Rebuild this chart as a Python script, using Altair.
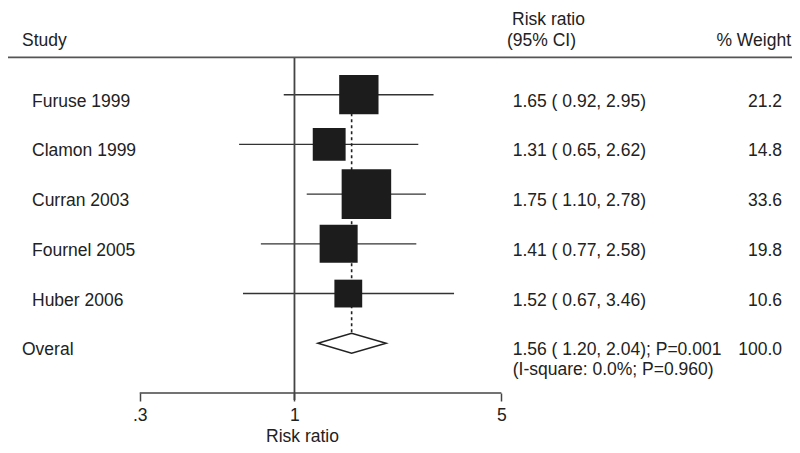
import altair as alt
import pandas as pd

# ---------------- data ----------------
STUDIES = ["Furuse 1999", "Clamon 1999", "Curran 2003", "Fournel 2005", "Huber 2006"]
RR = [1.65, 1.31, 1.75, 1.41, 1.52]
LO = [0.92, 0.65, 1.10, 0.77, 0.67]
HI = [2.95, 2.62, 2.78, 2.58, 3.46]
WEIGHT = [21.2, 14.8, 33.6, 19.8, 10.6]

OVERALL_LABEL = "Overal"
OVERALL_RR = 1.56
OVERALL_LO = 1.20
OVERALL_HI = 2.04
OVERALL_P = "0.001"
OVERALL_WEIGHT = 100.0
HETERO_TEXT = "(I-square: 0.0%; P=0.960)"

NULL_VALUE = 1
TICK_VALUES = [0.3, 1, 5]
TICK_LABELS = [".3", "1", "5"]

HEADER_STUDY = "Study"
HEADER_RR = "Risk ratio"
HEADER_CI = "(95% CI)"
HEADER_W = "% Weight"
AXIS_TITLE = "Risk ratio"

# ---------------- tables ----------------
FONT = "Liberation Sans"
FS = 17.5
TXT = "#222222"
W, H = 784, 385

studies = pd.DataFrame({
    "row": list(range(len(STUDIES))),
    "study": STUDIES,
    "rr": RR, "lo": LO, "hi": HI, "w": WEIGHT,
})
studies["ci"] = [f"{r:.2f} ({l:5.2f}, {h:5.2f})" for r, l, h in zip(RR, LO, HI)]
studies["wt"] = [f"{w:.1f}" for w in WEIGHT]

orow = len(STUDIES)
overall = pd.DataFrame({
    "row": [orow],
    "top": [-0.35],
    "est": [OVERALL_RR],
    "null": [NULL_VALUE],
    "tmin": [TICK_VALUES[0]],
    "tmax": [TICK_VALUES[-1]],
    "label": [OVERALL_LABEL],
    "ci": [f"{OVERALL_RR:.2f} ({OVERALL_LO:5.2f}, {OVERALL_HI:5.2f}); P={OVERALL_P}"],
    "het": [HETERO_TEXT],
    "wt": [f"{OVERALL_WEIGHT:.1f}"],
})
HALF = 0.2
diamond = pd.DataFrame({
    "x": [OVERALL_LO, OVERALL_RR, OVERALL_HI],
    "y": [orow, orow - HALF, orow],
    "y2": [orow, orow + HALF, orow],
})

# ---------------- scales / axes ----------------
XSCALE = alt.Scale(type="log", domain=[0.1077, 47.95], nice=False)
YSCALE = alt.Scale(domain=[-1.744, 6.0], reverse=True, nice=False, zero=False)

label_expr = "".join(
    f"datum.value == {v} ? '{t}' : " for v, t in zip(TICK_VALUES, TICK_LABELS)
) + "''"

XAXIS = alt.Axis(
    values=TICK_VALUES, labelExpr=label_expr, grid=False, domain=False,
    ticks=True, tickSize=8, tickWidth=1.5, tickColor="#444444",
    labelFont=FONT, labelFontSize=FS, labelColor=TXT, labelPadding=19,
    labelBaseline="alphabetic", labelFlush=False, labelOverlap=False,
    title=AXIS_TITLE, titleFont=FONT, titleFontSize=FS, titleFontWeight="normal",
    titleColor=TXT, titleX=294, titleY=48, titleAlign="center",
    titleBaseline="alphabetic",
)


def X(field):
    return alt.X(field, type="quantitative", scale=XSCALE, axis=XAXIS)


def Y(field):
    return alt.Y(field, type="quantitative", scale=YSCALE, axis=None)


base_s = alt.Chart(studies)
base_o = alt.Chart(overall)

ci_lines = base_s.mark_rule(color="#333333", strokeWidth=1.4).encode(
    x=X("lo"), x2="hi", y=Y("row")
)

dashed = base_o.mark_rule(
    color="#222222", strokeWidth=1.6, strokeDash=[3, 3]
).encode(x=X("est"), y=Y("top"), y2="row")

boxes = base_s.mark_square(color="#1c1c1c", opacity=1, filled=True).encode(
    x=X("rr"), y=Y("row"),
    size=alt.Size("w:Q", scale=alt.Scale(domain=[0, 100], range=[0, 7300]), legend=None),
)

dia = alt.Chart(diamond).mark_area(
    fill="white", stroke="#222222", strokeWidth=1.5, opacity=1
).encode(x=X("x"), y=Y("y"), y2="y2")

vline = base_o.mark_rule(color="#444444", strokeWidth=1.8).encode(
    x=X("null"), y=alt.value(49.3), y2=alt.value(392),
)

axis_line = base_o.mark_rule(color="#444444", strokeWidth=1.5).encode(
    x=X("tmin"), x2="tmax", y=alt.value(H),
)

header_line = base_o.mark_rule(color="#555555", strokeWidth=1.8).encode(
    x=alt.value(0), x2=alt.value(W), y=alt.value(49.3)
)


def txt(chart, field, xpix, align="left", dy=12):
    return chart.mark_text(
        font=FONT, fontSize=FS, color=TXT, align=align,
        baseline="alphabetic", dy=dy,
    ).encode(x=alt.value(xpix), y=Y("row"), text=f"{field}:N")


t_study = txt(base_s, "study", 24)
t_ci = txt(base_s, "ci", 504.7)
t_w = txt(base_s, "wt", 774, align="right")
t_ol = txt(base_o, "label", 14)
t_oci = txt(base_o, "ci", 504.7)
t_ohet = txt(base_o, "het", 504.7, dy=31.5)
t_ow = txt(base_o, "wt", 774, align="right")


def htxt(text, xpix, ypix, align="left"):
    return base_o.mark_text(
        font=FONT, fontSize=FS, color=TXT, align=align, baseline="alphabetic",
        text=text,
    ).encode(x=alt.value(xpix), y=alt.value(ypix))


h1 = htxt(HEADER_STUDY, 14, 37.7)
h2 = htxt(HEADER_RR, 504, 16.5)
h3 = htxt(HEADER_CI, 499, 38)
h4 = htxt(HEADER_W, 783, 38, align="right")

chart = alt.layer(
    ci_lines, dashed, boxes, dia, vline, axis_line, header_line,
    t_study, t_ci, t_w, t_ol, t_oci, t_ohet, t_ow, h1, h2, h3, h4,
).properties(
    width=W, height=H, autosize="none",
    padding={"left": 0, "top": 0, "right": 0, "bottom": 52},
).configure(
    background="white", view=alt.ViewConfig(stroke=None)
)

chart.save("out.html", embed_options={"renderer": "svg", "actions": False})
